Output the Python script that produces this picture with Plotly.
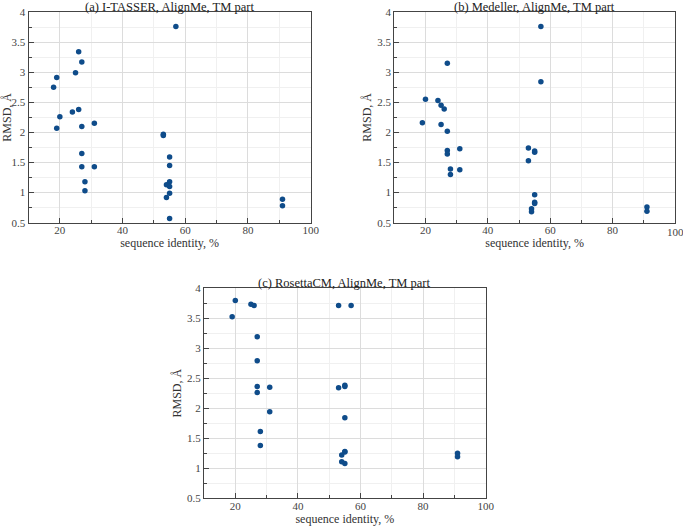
import plotly.graph_objects as go

# Panel (a) I-TASSER
a_x = [18, 19, 25, 26, 27, 57, 20, 24, 26, 19, 27, 31, 53, 53, 27, 27, 31, 28, 28,
       55, 55, 55, 54, 55, 55, 54, 55, 91, 91]
a_y = [2.75, 2.91, 2.99, 3.34, 3.17, 3.76, 2.26, 2.34, 2.38, 2.07, 2.10, 2.15, 1.97, 1.95,
       1.65, 1.43, 1.43, 1.18, 1.03, 1.59, 1.45, 1.18, 1.13, 1.10, 0.99, 0.92, 0.57, 0.89, 0.78]

# Panel (b) Medeller
b_x = [57, 27, 57, 20, 24, 25, 26, 19, 25, 27, 27, 27, 31, 28, 28, 31, 53, 53, 55, 55,
       55, 55, 55, 54, 54, 91, 91]
b_y = [3.76, 3.15, 2.84, 2.55, 2.53, 2.45, 2.39, 2.16, 2.13, 2.02, 1.70, 1.64, 1.73, 1.39,
       1.30, 1.38, 1.74, 1.53, 1.69, 1.67, 0.965, 0.84, 0.82, 0.73, 0.68, 0.76, 0.69]

# Panel (c) RosettaCM
c_x = [20, 19, 25, 26, 53, 57, 27, 27, 27, 27, 31, 31, 28, 28, 53, 55, 55, 55, 55, 55,
       54, 54, 55, 91, 91]
c_y = [3.79, 3.52, 3.73, 3.71, 3.71, 3.71, 3.19, 2.79, 2.36, 2.26, 2.35, 1.94, 1.61, 1.38,
       2.34, 2.38, 2.36, 1.84, 1.28, 1.27, 1.22, 1.11, 1.08, 1.25, 1.19]

titles = ["(a) I-TASSER, AlignMe, TM part",
          "(b) Medeller, AlignMe, TM part",
          "(c) RosettaCM, AlignMe, TM part"]
x_ticks = [20, 40, 60, 80, 100]
y_ticks = [0.5, 1, 1.5, 2, 2.5, 3, 3.5, 4]

W, H = 683, 526
# pixel boxes: left, right, top, bottom
boxes = [(28.5, 310.7, 12, 222.7), (394.3, 675, 12, 222.7), (204, 485.7, 288, 498.3)]

FONT = "Liberation Serif, Times New Roman, serif"
MARK = "#0f4c8a"

fig = go.Figure()
data = [(a_x, a_y), (b_x, b_y), (c_x, c_y)]
for i, (xs, ys) in enumerate(data):
    sfx = "" if i == 0 else str(i + 1)
    fig.add_trace(go.Scatter(x=xs, y=ys, mode="markers",
                             marker=dict(color=MARK, size=5.5),
                             xaxis="x" + sfx, yaxis="y" + sfx, showlegend=False))

layout = dict(width=W, height=H, margin=dict(l=0, r=0, t=0, b=0),
              paper_bgcolor="white", plot_bgcolor="white",
              font=dict(family=FONT, size=11, color="#333"))
annotations = []
for i, (l, r, t, b) in enumerate(boxes):
    sfx = "" if i == 0 else str(i + 1)
    xd = [l / W, r / W]
    yd = [1 - b / H, 1 - t / H]
    xtext = [str(v) for v in x_ticks]
    if i == 1:
        xtext[-1] = ""  # drawn below as text at the page edge
    axcommon = dict(showline=True, mirror=True, linecolor="#444", linewidth=1.3,
                    ticks="inside", ticklen=5, tickcolor="#444", automargin=False,
                    showgrid=True, gridcolor="#dcdcdc", gridwidth=1,
                    ticklabeloverflow="allow",
                    zeroline=False, tickfont=dict(family=FONT, size=11, color="#444"))
    layout["xaxis" + sfx] = dict(domain=xd, range=[10, 100], tickvals=x_ticks,
                                 ticktext=xtext,
                                 anchor="y" + sfx, ticklabelstandoff=-3,
                                 minor=dict(dtick=10, ticks="inside", ticklen=3,
                                            tickcolor="#444", showgrid=True,
                                            gridcolor="#f0f0f0"),
                                 title=dict(text="sequence identity, %",
                                            font=dict(family=FONT, size=12, color="#333"),
                                            standoff=2),
                                 **axcommon)
    layout["yaxis" + sfx] = dict(domain=yd, range=[0.5, 4], tickvals=y_ticks,
                                 anchor="x" + sfx,
                                 minor=dict(dtick=0.25, ticks="inside", ticklen=3,
                                            tickcolor="#444", showgrid=True,
                                            gridcolor="#f0f0f0"),
                                 title=dict(text="RMSD, Å",
                                            font=dict(family=FONT, size=12, color="#333"),
                                            standoff=2),
                                 **axcommon)
    annotations.append(dict(text=titles[i], x=(l + r) / 2 / W, y=1 - t / H,
                            xref="paper", yref="paper", xanchor="center", yanchor="bottom",
                            showarrow=False, yshift=-4,
                            font=dict(family=FONT, size=12.5, color="#222")))

# last tick label of panel (b) sits at the page edge
annotations.append(dict(text=str(x_ticks[-1]), x=x_ticks[-1], xref="x2",
                        y=1 - boxes[1][3] / H, yref="paper", yanchor="top",
                        xanchor="center", showarrow=False, yshift=-1,
                        font=dict(family=FONT, size=11, color="#444")))
layout["annotations"] = annotations
fig.update_layout(**layout)
fig.write_html("out.html", config={"displayModeBar": False},
               post_script="document.body.style.margin='0';document.body.style.overflow='hidden';")
